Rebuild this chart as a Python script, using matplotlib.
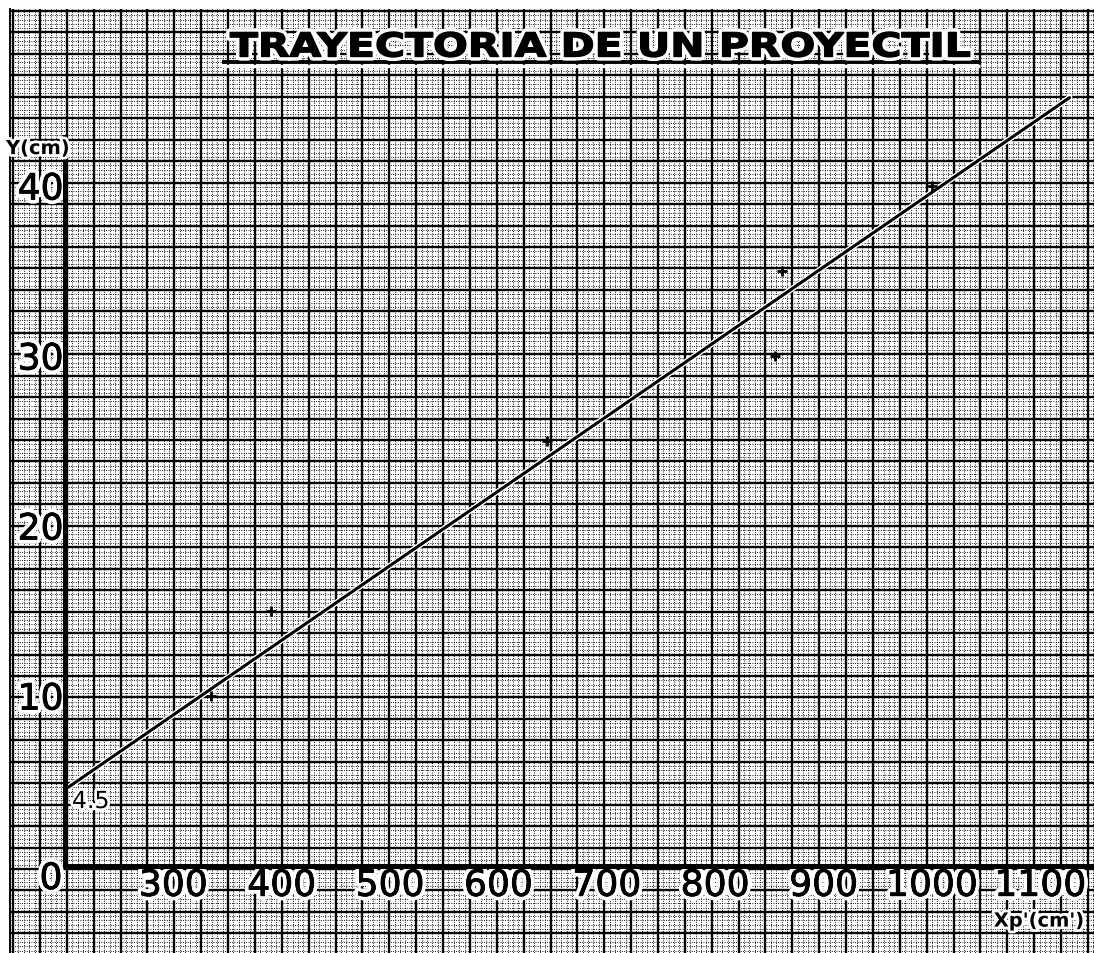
import matplotlib
matplotlib.use("Agg")
import matplotlib.pyplot as plt
import numpy as np
from matplotlib import patheffects as pe
from matplotlib.transforms import Affine2D
from matplotlib.collections import LineCollection

# ---------------- data ----------------
title = "TRAYECTORIA DE UN PROYECTIL"
x_ticks = [300, 400, 500, 600, 700, 800, 900, 1000, 1100]
x_labels = ["300", "400", "500", "600", "700", "800", "900", "1000", "1100"]
y_ticks = [10, 20, 30, 40]
y_labels = ["10", "20", "30", "40"]
x_pts = [335, 390, 645, 855, 862, 1000]
y_pts = [10, 15, 25, 30, 35, 40]
line_x = [200, 1127]
line_y = [4.5, 45.2]
intercept_label = "4.5"
y_axis_label = "Y(cm)"
x_axis_label = "Xp'(cm')"

W, H = 1094, 954
fig = plt.figure(figsize=(W / 100, H / 100), dpi=100)
fig.patch.set_facecolor("white")

# ---------------- graph paper background ----------------
bg = fig.add_axes([0, 0, 1, 1], zorder=0)
bg.set_xlim(0, W)
bg.set_ylim(H, 0)
bg.axis("off")

x0, dx = 13.1, 26.87
y0, dy = 12.0, 21.45
top, left = 10, 10

vmaj = x0 + dx * np.arange(0, 42)
vmaj = vmaj[vmaj <= W + 1]
hmaj = y0 + dy * np.arange(0, 46)
hmaj = hmaj[hmaj <= H + 1]

vmin = np.array([x0 + dx * (k + s / 5) for k in range(-1, 42) for s in range(1, 5)])
vmin = vmin[(vmin > left) & (vmin < W)]
hmin = np.array([y0 + dy * (k + s / 5) for k in range(-1, 46) for s in range(1, 5)])
hmin = hmin[(hmin > top) & (hmin < H)]

minor_segs = [[(x, top), (x, H)] for x in vmin] + [[(left, y), (W, y)] for y in hmin]
bg.add_collection(LineCollection(minor_segs, colors="black", linewidths=0.7,
                                 linestyles=[(0, (0.9, 1.5))]))
major_segs = [[(x, top), (x, H)] for x in vmaj] + [[(left, y), (W, y)] for y in hmaj]
bg.add_collection(LineCollection(major_segs, colors="black", linewidths=1.7))
bg.plot([9.5, 9.5], [top, H], color="black", lw=1.4)

# title underline
bg.plot([222, 980], [66.5, 66.5], color="white", lw=2.5, solid_capstyle="butt")
bg.plot([222, 980], [63, 63], color="black", lw=2.8, solid_capstyle="butt")


# ---------------- custom horizontal stretch effect for the title ----------------
class Stretch(pe.AbstractPathEffect):
    def __init__(self, sx, effect):
        super().__init__()
        self.sx = sx
        self.effect = effect

    def draw_path(self, renderer, gc, tpath, affine, rgbFace=None):
        self.effect.draw_path(renderer, gc, tpath,
                              Affine2D().scale(self.sx, 1) + affine, rgbFace)


# ---------------- main axes ----------------
ax = fig.add_axes([0, 0, 1, 1], zorder=1)
ax.patch.set_alpha(0)
px_per_x = 1.0837
px_per_y = 17.0
ax.set_xlim(200 - 65 / px_per_x, 200 + (W - 65) / px_per_x)
ax.set_ylim(-(H - 867) / px_per_y, 867 / px_per_y)

for s in ["top", "right"]:
    ax.spines[s].set_visible(False)
ax.spines["left"].set_position(("data", 200))
ax.spines["bottom"].set_position(("data", 0))
ax.spines["left"].set_linewidth(3.6)
ax.spines["bottom"].set_linewidth(3.6)
ax.spines["left"].set_bounds(0, (867 - 138) / px_per_y)
ax.spines["bottom"].set_bounds(200, ax.get_xlim()[1])

ax.tick_params(length=0)
ax.tick_params(axis="x", pad=2)
ax.tick_params(axis="y", pad=1)
ax.set_xticks(x_ticks)
ax.set_xticklabels(x_labels)
ax.set_yticks(y_ticks)
ax.set_yticklabels(y_labels)

label_fx = [pe.withStroke(linewidth=6, foreground="white"),
            pe.withStroke(linewidth=0.6, foreground="black")]
for lbl in ax.get_xticklabels() + ax.get_yticklabels():
    lbl.set_fontsize(26)
    lbl.set_family("DejaVu Sans")
    lbl.set_path_effects(label_fx)

ax.text(187.1, -0.76, "0", fontsize=26, ha="center", va="center",
        path_effects=label_fx)

# fitted line and data points
ax.plot(line_x, line_y, color="black", lw=2.2, solid_capstyle="round",
        path_effects=[pe.withStroke(linewidth=4.2, foreground="white")])
ax.plot(x_pts, y_pts, linestyle="none", marker="+", ms=7, mew=2, color="black")

small_fx = [pe.withStroke(linewidth=4, foreground="white")]
ax.text(206.4, 3.82, intercept_label, fontsize=17, ha="left", va="center",
        path_effects=small_fx)
ax.text(175.0, 42.2, y_axis_label, fontsize=14, weight="bold", ha="center",
        va="center", path_effects=small_fx)
ax.text(1098.8, -3.24, x_axis_label, fontsize=14, weight="bold", ha="center",
        va="center", path_effects=small_fx)

# ---------------- title ----------------
sx = 1.24
fig.text(230 / W, 1 - 57.5 / H, title, ha="left", va="baseline",
         fontsize=23.8, weight="bold", zorder=5,
         path_effects=[Stretch(sx, pe.withStroke(linewidth=6, foreground="white")),
                       Stretch(sx, pe.withStroke(linewidth=1.0, foreground="black"))])

fig.savefig("out.png", dpi=100, facecolor="white")
